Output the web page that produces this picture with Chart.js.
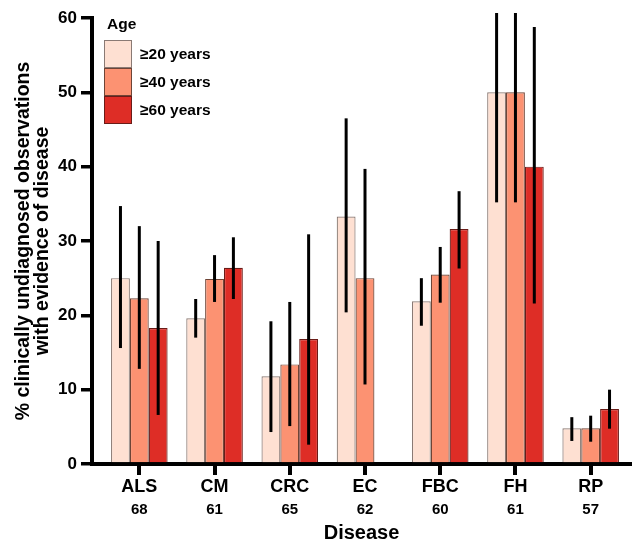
<!DOCTYPE html>
<html>
<head>
<meta charset="utf-8">
<script src="https://cdn.jsdelivr.net/npm/chart.js@4/dist/chart.umd.min.js"></script>
<style>
  body{margin:0;background:#fff;}
  #wrap{position:relative;width:632px;height:544px;font-family:"Liberation Sans",Arial,Helvetica,sans-serif;}
  #lg{position:absolute;left:104px;top:13px;font-weight:bold;font-size:15.5px;color:#000;}
  #lg .ttl{margin-left:3px;height:27px;line-height:22px;}
  #lg .row{display:flex;align-items:center;height:28px;}
  #lg .box{width:28px;height:28px;box-sizing:border-box;border:1px solid #888;margin-right:8px;}
</style>
</head>
<body>
<div id="wrap">
  <canvas id="c" width="632" height="544"></canvas>
  <div id="lg"></div>
</div>
<script>
// ---- data ----
var diseases = ['ALS','CM','CRC','EC','FBC','FH','RP'];
var counts   = ['68','61','65','62','60','61','57'];
var ageGroups = ['\u226520 years','\u226540 years','\u226560 years'];
var fills   = ['#fee0d2','#fc9272','#de2d26'];
var borders = ['#8a7a74','#6e4436','#6a1c18'];

var pct20 = [25.0, 19.6, 11.8, 33.3, 21.9, 50.0, 4.8];
var lo20  = [15.6, 17.0,  4.3, 20.4, 18.6, 35.2, 3.1];
var hi20  = [34.7, 22.2, 19.2, 46.5, 25.0, 65.0, 6.3];

var pct40 = [22.3, 24.9, 13.4, 25.0, 25.5, 50.0, 4.8];
var lo40  = [12.8, 21.8,  5.1, 10.7, 21.7, 35.2, 3.0];
var hi40  = [32.0, 28.1, 21.8, 39.7, 29.2, 65.0, 6.5];

var pct60 = [18.3, 26.4, 16.8, null, 31.6, 40.0, 7.4];
var lo60  = [ 6.6, 22.2,  2.6, null, 26.3, 21.6, 4.75];
var hi60  = [30.0, 30.5, 30.9, null, 36.7, 58.8, 10.0];

var yTitle = ['% clinically undiagnosed observations','with evidence of disease'];

// ---- helpers ----
var FONT = '"Liberation Sans", Arial, Helvetica, sans-serif';
function pts(arr){ return arr.map(function(v,i){ return {x:i, y:v}; }); }
function mk(i, vals, lo, hi){
  return {label:ageGroups[i], data:pts(vals), errLow:lo, errHigh:hi,
    backgroundColor:fills[i], borderColor:borders[i], borderWidth:1.2};
}
function fixTicks(s){ s.ticks = diseases.map(function(_,i){ return {value:i}; }); }

// error bars, drawn with the y scale
var errorBars = {
  id:'errorBars',
  afterDatasetsDraw:function(chart){
    var ctx = chart.ctx, ca = chart.chartArea, y = chart.scales.y;
    ctx.save();
    ctx.beginPath();
    ctx.rect(ca.left, ca.top-5, ca.right-ca.left, ca.bottom-ca.top+5);
    ctx.clip();
    ctx.strokeStyle = '#000';
    ctx.lineWidth = 3;
    chart.data.datasets.forEach(function(ds, i){
      chart.getDatasetMeta(i).data.forEach(function(bar, j){
        if(ds.errLow[j]==null) return;
        ctx.beginPath();
        ctx.moveTo(bar.x, y.getPixelForValue(ds.errLow[j]));
        ctx.lineTo(bar.x, y.getPixelForValue(ds.errHigh[j]));
        ctx.stroke();
      });
    });
    ctx.restore();
  }
};

// legend (html)
var lg = document.getElementById('lg');
lg.innerHTML = '<div class="ttl">Age</div>' + ageGroups.map(function(g,i){
  return '<div class="row"><div class="box" style="background:'+fills[i]+';border-color:'+borders[i]+'"></div>'+g+'</div>';
}).join('');

var xMin = -0.629, xMax = 6.536;

new Chart(document.getElementById('c'), {
  type:'bar',
  data:{ datasets:[ mk(0,pct20,lo20,hi20), mk(1,pct40,lo40,hi40), mk(2,pct60,lo60,hi60) ] },
  options:{
    responsive:false, animation:false,
    layout:{padding:{top:18,right:1,left:0,bottom:0}},
    datasets:{bar:{categoryPercentage:0.752, barPercentage:1}},
    plugins:{legend:{display:false}, tooltip:{enabled:false}},
    scales:{
      x:{
        type:'linear', min:xMin, max:xMax, position:'bottom', weight:0, z:1, offset:false,
        grid:{display:true, offset:false, drawOnChartArea:false, drawTicks:true, tickLength:11, lineWidth:4, color:'#000'},
        border:{display:true, width:4, color:'#000'},
        ticks:{autoSkip:false, maxRotation:0, padding:1, color:'#000',
          font:{family:FONT, size:18, weight:'bold'},
          callback:function(v){ return diseases[v]; }},
        afterBuildTicks:fixTicks,
        afterFit:function(s){ s.height = 35; }
      },
      x2:{
        type:'linear', min:xMin, max:xMax, position:'bottom', weight:1, offset:false,
        grid:{display:false, offset:false, drawTicks:false},
        border:{display:false},
        ticks:{autoSkip:false, maxRotation:0, padding:2, color:'#000',
          font:{family:FONT, size:15, weight:'bold'},
          callback:function(v){ return counts[v]; }},
        title:{display:true, text:'Disease', color:'#000', padding:{top:0,bottom:1},
          font:{family:FONT, size:20, weight:'bold', lineHeight:1}},
        afterBuildTicks:fixTicks,
        afterFit:function(s){ s.height = 45; }
      },
      y:{
        min:0, max:60, z:1,
        grid:{display:true, drawOnChartArea:false, drawTicks:true, tickLength:11, lineWidth:3.5, color:'#000'},
        border:{display:true, width:4, color:'#000'},
        ticks:{stepSize:10, padding:4, color:'#000', font:{family:FONT, size:17, weight:'bold'}},
        title:{display:true, text:yTitle, color:'#000', padding:{top:14.5,bottom:0},
          font:{family:FONT, size:19.5, weight:'bold', lineHeight:'18.5px'}},
        afterFit:function(s){ s.width = 92; }
      }
    }
  },
  plugins:[errorBars]
});
</script>
</body>
</html>
